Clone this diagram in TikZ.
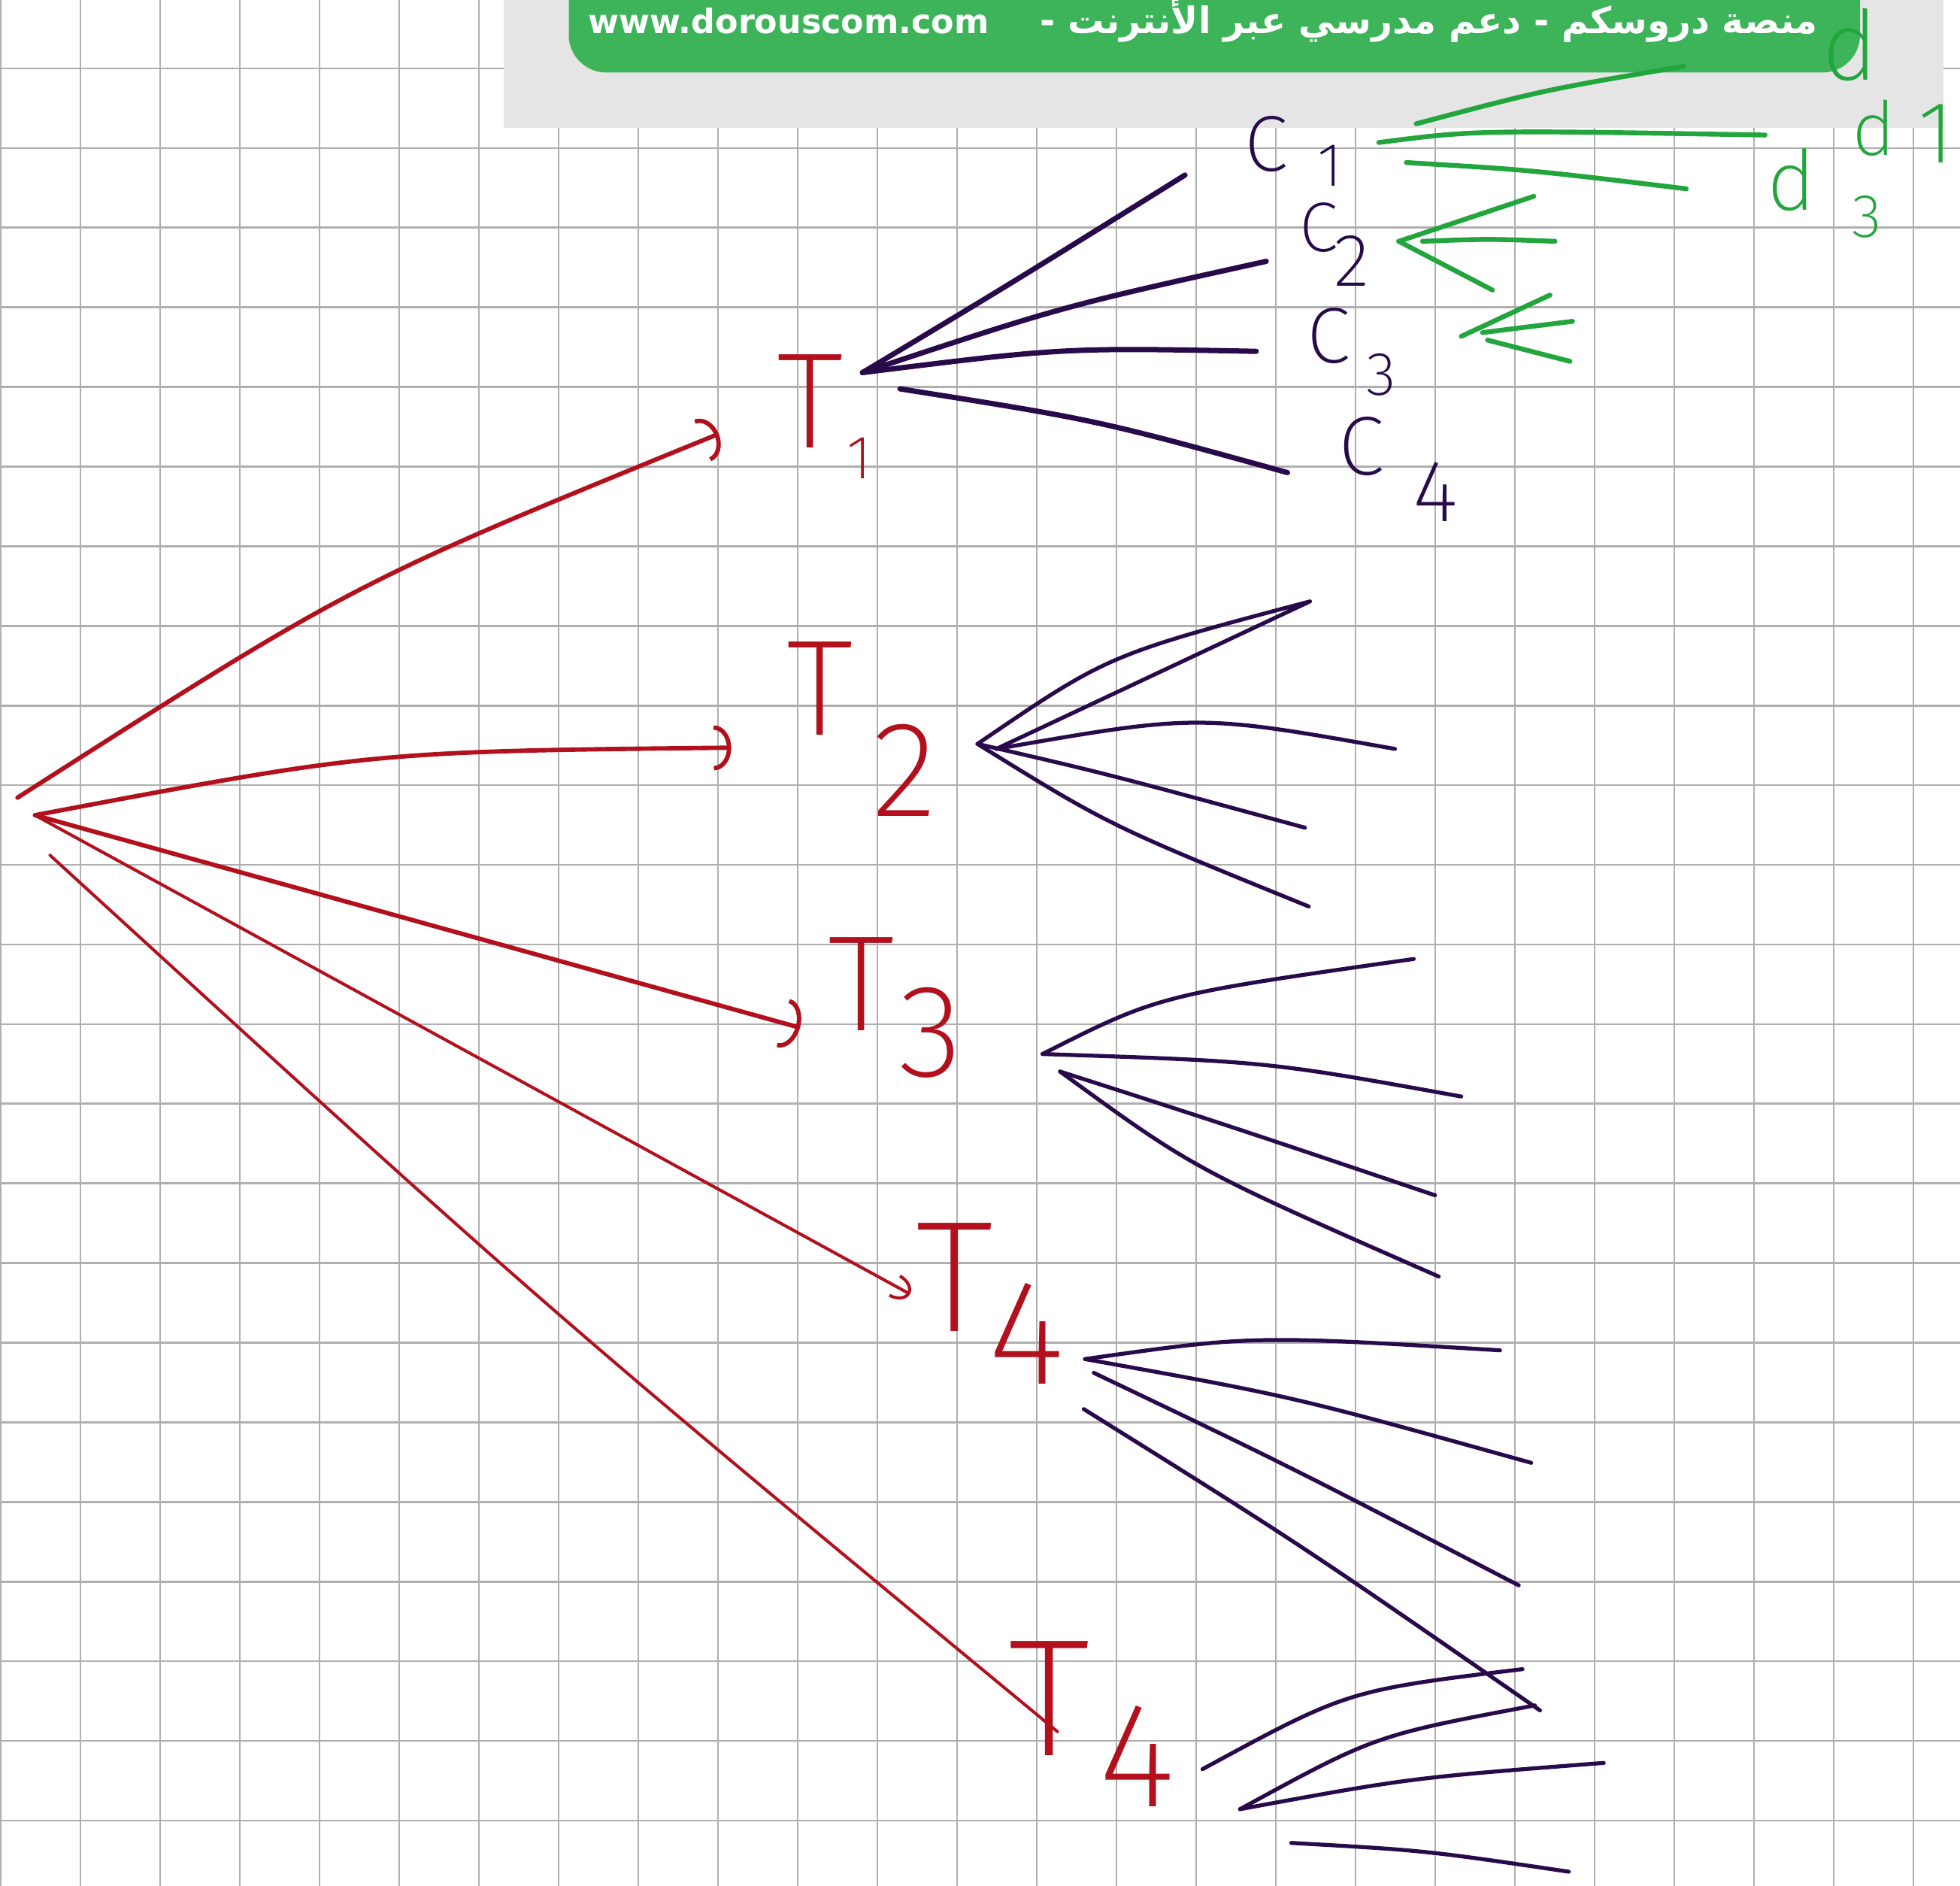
\documentclass[tikz,border=0pt]{standalone}
\usepackage{fontspec}
\usepackage{tikz}
\usetikzlibrary{arrows.meta, positioning}
\TeXXeTstate=1
\newfontfamily\arabicfont[Script=Arabic]{DejaVu Sans}
\newfontfamily\bannerfont{DejaVu Sans}
\newfontfamily\handfont{Fira Sans ExtraLight}

\definecolor{penred}{RGB}{178,16,28}
\definecolor{penpurple}{RGB}{40,10,75}
\definecolor{pengreen}{RGB}{34,165,60}
\definecolor{pillgreen}{RGB}{62,180,90}
\definecolor{bargray}{RGB}{229,229,229}
\definecolor{gridgray}{RGB}{175,175,175}

\tikzset{
  redpen/.style={draw=penred, line width=1pt},
  redthin/.style={draw=penred, line width=0.7pt},
  purplepen/.style={draw=penpurple, line width=0.9pt},
  purplethick/.style={draw=penpurple, line width=1.2pt},
  greenpen/.style={draw=pengreen, line width=1.1pt},
  hooktip/.style={-{Arc Barb[width=#1, length=1.4mm]}},
  tlabel/.style={text=penred, inner sep=0pt, anchor=base west},
  clabel/.style={text=penpurple, inner sep=0pt, anchor=base west},
  dlabel/.style={text=pengreen, inner sep=0pt, anchor=base west}
}
\newcommand\handsize[1]{\handfont\fontsize{#1}{#1}\selectfont}
\newcommand\lowdigit[3]{\raisebox{-#2}{\handsize{#3}#1}}

\begin{document}
\begin{tikzpicture}[x=0.1mm, y=-0.1mm, line cap=round, line join=round]
    \useasboundingbox (0,0) rectangle (1568,1508);

    % Giấy kẻ ô
    \foreach \i in {0,...,24}
        \draw[gridgray, line width=0.45pt] ({0.6+63.75*\i},0) -- ({0.6+63.75*\i},1508);
    \foreach \j in {0,...,22}
        \draw[gridgray, line width=0.45pt] (0,{54.7+63.7*\j}) -- (1568,{54.7+63.7*\j});

    % Dải tiêu đề
    \fill[bargray] (403,0) rectangle (1555,102);
    \fill[pillgreen, rounded corners=3mm] (455,-40) rectangle (1488,58);
    \node[anchor=base west, inner sep=0pt, text=white,
          font=\bannerfont\bfseries\fontsize{7.6}{7.6}\selectfont] (url) at (470,27) {www.dorouscom.com};
    \node[anchor=base east, inner sep=0pt, text=white,
          font=\arabicfont\bfseries\fontsize{8.3}{8.3}\selectfont] (slogan) at (1455,27)
          {\beginR منصة دروسكم - دعم مدرسي عبر الأنترنت -\endR};

    % Gốc và các nhánh đỏ
    \coordinate (root) at (28,652);
    \coordinate (rootup) at (14,638);
    \coordinate (rootlow) at (40,684);
    \coordinate (e1) at (575,347);
    \coordinate (e2) at (585,598);
    \coordinate (e3) at (640,822);
    \coordinate (e4) at (728,1035);
    \coordinate (e5) at (846,1385);
    \draw[redpen, hooktip=3.6mm] (rootup) .. controls (283,466) .. (e1);
    \draw[redpen, hooktip=3.6mm] (root) .. controls (298,601) .. (e2);
    \draw[redpen, hooktip=4mm] (root) -- (e3);
    \draw[redthin, hooktip=2mm] (root) -- (e4);
    \draw[redthin] (rootlow) .. controls (436,1046) .. (e5);

    % Nhãn T
    \node[tlabel, font=\handsize{31}] (t1) at (621,358) {T\kern0.3mm\lowdigit{1}{2.5mm}{14}};
    \node[tlabel, font=\handsize{31}] (t2) at (629,588) {T\kern1.5mm\lowdigit{2}{6.5mm}{31}};
    \node[tlabel, font=\handsize{31}] (t3) at (662,824) {T\kern0.3mm\lowdigit{3}{3.7mm}{30}};
    \node[tlabel, font=\handsize{36}] (t4) at (732,1065) {T\kern-0.4mm\lowdigit{4}{4.2mm}{34}};
    \node[tlabel, font=\handsize{38}] (t5) at (806,1404) {T\kern0.7mm\lowdigit{4}{4.1mm}{34}};

    % Nhánh tím của T1
    \coordinate (h1) at (690,298);
    \coordinate (h1b) at (720,311);
    \coordinate (l11) at (948,140);
    \coordinate (l12) at (1013,209);
    \coordinate (l13) at (1005,281);
    \coordinate (l14) at (1030,378);
    \draw[purplethick] (h1) .. controls (810,226) .. (l11);
    \draw[purplethick] (h1) .. controls (850,245) .. (l12);
    \draw[purplethick] (h1) .. controls (851,278) .. (l13);
    \draw[purplethick] (h1b) .. controls (878,336) .. (l14);

    % Nhãn C
    \node[clabel, font=\handsize{18}] (c1) at (995,137) {C\kern2.4mm\lowdigit{1}{1.2mm}{14}};
    \node[clabel, font=\handsize{16}] (c2) at (1039,201) {C\kern-0.3mm\lowdigit{2}{2.8mm}{17}};
    \node[clabel, font=\handsize{18}] (c3) at (1045,290) {C\kern1.3mm\lowdigit{3}{2.6mm}{14}};
    \node[clabel, font=\handsize{19}] (c4) at (1070,380) {C\kern2.3mm\lowdigit{4}{3.7mm}{20}};

    % Nhánh tím của T2
    \coordinate (h2) at (782,595);
    \coordinate (h2b) at (797,599);
    \coordinate (l21) at (1048,481);
    \coordinate (l22) at (1116,599);
    \coordinate (l23) at (1044,662);
    \coordinate (l24) at (1047,725);
    \draw[purplepen] (h2) .. controls (886,524) .. (l21) -- (h2b);
    \draw[purplepen] (h2b) .. controls (958,571) .. (l22);
    \draw[purplepen] (h2) .. controls (886,619) .. (l23);
    \draw[purplepen] (h2) .. controls (887,660) .. (l24);

    % Nhánh tím của T3
    \coordinate (h3) at (834,843);
    \coordinate (h3b) at (848,857);
    \coordinate (l31) at (1131,767);
    \coordinate (l32) at (1169,877);
    \coordinate (l33) at (1148,956);
    \coordinate (l34) at (1151,1021);
    \draw[purplepen] (h3) .. controls (927,796) .. (l31);
    \draw[purplepen] (h3) .. controls (1014,849) .. (l32);
    \draw[purplepen] (h3b) .. controls (982,900) .. (l33);
    \draw[purplepen] (h3b) .. controls (955,935) .. (l34);

    % Nhánh tím của T4
    \coordinate (h4) at (868,1087);
    \coordinate (h4b) at (875,1098);
    \coordinate (h4c) at (867,1127);
    \coordinate (l41) at (1200,1080);
    \coordinate (l42) at (1225,1170);
    \coordinate (l43) at (1215,1268);
    \coordinate (l44) at (1232,1368);
    \draw[purplepen] (h4) .. controls (1002,1068) .. (l41);
    \draw[purplepen] (h4) .. controls (1035,1117) .. (l42);
    \draw[purplepen] (h4b) .. controls (1030,1172) .. (l43);
    \draw[purplepen] (h4c) .. controls (1040,1235) .. (l44);

    % Nhánh tím của T5
    \coordinate (h5) at (962,1415);
    \coordinate (h5b) at (992,1447);
    \coordinate (h5c) at (1033,1474);
    \coordinate (l51) at (1218,1335);
    \coordinate (l52) at (1228,1364);
    \coordinate (l53) at (1283,1410);
    \coordinate (l54) at (1255,1497);
    \draw[purplepen] (h5) .. controls (1078,1352) .. (l51);
    \draw[purplepen] (h5b) .. controls (1100,1388) .. (l52);
    \draw[purplepen] (h5b) .. controls (1128,1422) .. (l53);
    \draw[purplepen] (h5c) .. controls (1140,1480) .. (l54);

    % Nhánh xanh
    \coordinate (g1) at (1133,99);
    \coordinate (g1b) at (1103,114);
    \coordinate (g1c) at (1125,130);
    \coordinate (m11) at (1347,53);
    \coordinate (m12) at (1412,108);
    \coordinate (m13) at (1349,151);
    \draw[greenpen] (g1) .. controls (1235,72) .. (m11);
    \draw[greenpen] (g1b) .. controls (1180,104) .. (m12);
    \draw[greenpen] (g1c) .. controls (1225,136) .. (m13);
    \coordinate (g2) at (1119,193);
    \coordinate (g2b) at (1138,193);
    \coordinate (m21) at (1227,157);
    \coordinate (m22) at (1244,193);
    \coordinate (m23) at (1194,232);
    \draw[greenpen] (g2) -- (m21);
    \draw[greenpen] (g2b) .. controls (1190,191) .. (m22);
    \draw[greenpen] (g2) -- (m23);
    \coordinate (g3) at (1169,269);
    \coordinate (g3b) at (1186,266);
    \coordinate (g3c) at (1190,272);
    \coordinate (m31) at (1240,236);
    \coordinate (m32) at (1258,257);
    \coordinate (m33) at (1256,289);
    \draw[greenpen] (g3) -- (m31);
    \draw[greenpen] (g3b) -- (m32);
    \draw[greenpen] (g3c) -- (m33);

    % Nhãn d
    \node[dlabel, font=\handsize{22}] (d1) at (1457,64) {d};
    \node[dlabel, font=\handsize{17}] (d2) at (1481,124) {d\kern1.8mm\lowdigit{1}{0.6mm}{20}};
    \node[dlabel, font=\handsize{19}] (d3) at (1413,168) {d\kern2.9mm\lowdigit{3}{2.2mm}{14}};
\end{tikzpicture}
\end{document}
